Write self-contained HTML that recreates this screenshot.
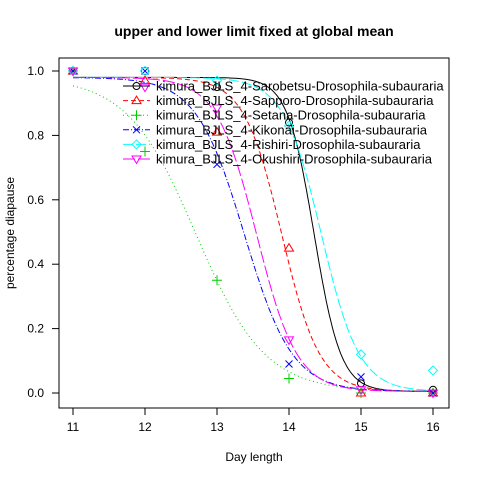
<!DOCTYPE html>
<html><head><meta charset="utf-8"><style>
body{margin:0;background:#fff}
svg{display:block;font-family:"Liberation Sans",sans-serif}
</style></head><body>
<svg id="c" width="480" height="480" viewBox="0 0 480 480">
<rect width="480" height="480" fill="#fff"/>
<text x="254" y="36" text-anchor="middle" font-weight="bold" font-size="14">upper and lower limit fixed at global mean</text>
<rect x="59" y="58" width="390" height="350" fill="none" stroke="#000"/>
<text x="254" y="461" text-anchor="middle" font-size="12">Day length</text>
<text transform="translate(14,233) rotate(-90)" text-anchor="middle" font-size="12">percentage diapause</text>
<g id="axes"></g><g id="curves"></g><g id="pts"></g><g id="legend"></g>
</svg>
<script>
const days=[11,12,13,14,15,16];
const yTicks=[0.0,0.2,0.4,0.6,0.8,1.0];
const seriesNames=["kimura_BJLS_4-Sarobetsu-Drosophila-subauraria","kimura_BJLS_4-Sapporo-Drosophila-subauraria","kimura_BJLS_4-Setana-Drosophila-subauraria","kimura_BJLS_4-Kikonai-Drosophila-subauraria","kimura_BJLS_4-Rishiri-Drosophila-subauraria","kimura_BJLS_4-Okushiri-Drosophila-subauraria"];
const sarobetsu=[1.0,1.0,0.95,0.84,0.03,0.01];
const sapporo=[1.0,0.97,0.81,0.45,0.0,0.0];
const setana=[1.0,0.75,0.35,0.045,0.0,0.0];
const kikonai=[1.0,1.0,0.71,0.09,0.05,0.0];
const rishiri=[1.0,1.0,0.97,0.83,0.12,0.07];
const okushiri=[1.0,0.95,0.885,0.165,0.01,0.0];
const midpoints=[14.35,13.9,12.71,13.38,14.45,13.55];
const slopes=[5.4,3.8,2.1,3.0,3.8,3.57];
const upper=0.98, lower=0.005;
const colors=["#000","#f00","#0c0","#00f","#0ff","#f0f"];
const dashes=["","5,3","1,3","6,2,1,2","10,3","12,3"];
const syms=["circle","up","plus","x","diamond","down"];
const allData=[sarobetsu,sapporo,setana,kikonai,rishiri,okushiri];
const NS="http://www.w3.org/2000/svg";
const X=d=>73+(d-11)*72, Y=v=>393-v*322;
function mk(t,a,p){const e=document.createElementNS(NS,t);for(const k in a)e.setAttribute(k,a[k]);p.appendChild(e);return e;}
const ax=document.getElementById('axes');
days.forEach(d=>{const l=mk('line',{x1:X(d),x2:X(d),y1:408,y2:415,stroke:'#000'},ax);


const t=mk('text',{x:X(d),y:431,'text-anchor':'middle','font-size':12},ax);t.textContent=d;

});
yTicks.forEach(v=>{const l=mk('line',{x1:52,x2:59,y1:Y(v),y2:Y(v),stroke:'#000'},ax);


const t=mk('text',{x:44,y:Y(v)+4,'text-anchor':'end','font-size':12},ax);t.textContent=v.toFixed(1);

});
function sym(type,x,y,c,p){let e;
if(type=='circle')e=mk('circle',{cx:x,cy:y,r:3.5,fill:'none',stroke:c},p);
else if(type=='up')e=mk('polygon',{points:`${x},${y-4.5} ${x-4.5},${y+3} ${x+4.5},${y+3}`,fill:'none',stroke:c},p);
else if(type=='down')e=mk('polygon',{points:`${x},${y+4.5} ${x-4.5},${y-3} ${x+4.5},${y-3}`,fill:'none',stroke:c},p);
else if(type=='diamond')e=mk('polygon',{points:`${x},${y-4.5} ${x+4.5},${y} ${x},${y+4.5} ${x-4.5},${y}`,fill:'none',stroke:c},p);
else if(type=='plus')e=mk('path',{d:`M${x-5},${y}H${x+5}M${x},${y-5}V${y+5}`,stroke:c},p);
else e=mk('path',{d:`M${x-3.5},${y-3.5}L${x+3.5},${y+3.5}M${x-3.5},${y+3.5}L${x+3.5},${y-3.5}`,stroke:c},p);
return e;}
const cv=document.getElementById('curves'),pg=document.getElementById('pts');
allData.forEach((arr,i)=>{let d='';
for(let x=11;x<=16.0001;x+=0.02){const v=lower+(upper-lower)/(1+Math.exp(slopes[i]*(x-midpoints[i])));d+=(d?'L':'M')+X(x).toFixed(1)+','+Y(v).toFixed(1);}
const p=mk('path',{d:d,fill:'none',stroke:colors[i],'stroke-dasharray':dashes[i]},cv);


arr.forEach((v,j)=>{const e=sym(syms[i],X(days[j]),Y(v),colors[i],pg);

});});
const lg=document.getElementById('legend');
seriesNames.forEach((n,i)=>{const y=86+i*14.6;
const l=mk('line',{x1:123,x2:150,y1:y,y2:y,stroke:colors[i],'stroke-dasharray':dashes[i]},lg);


const s=sym(syms[i],136.5,y,colors[i],lg);


const t=mk('text',{x:156,y:y+4.5,'font-size':13},lg);t.textContent=n;

});
</script>
</body></html>
